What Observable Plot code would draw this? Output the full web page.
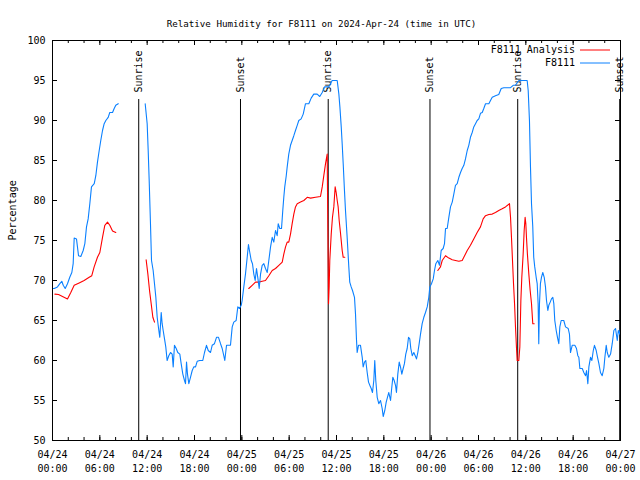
<!DOCTYPE html>
<html><head><meta charset="utf-8">
<script src="https://cdn.jsdelivr.net/npm/d3@7"></script>
<script src="https://cdn.jsdelivr.net/npm/@observablehq/plot@0.6"></script>
<style>body{margin:0;background:#fff} svg{display:block}</style>
</head><body><div id="chart"></div>
<script>
const title = "Relative Humidity for F8111 on 2024-Apr-24 (time in UTC)";
const yLabel = "Percentage";
const seriesNames = ["F8111 Analysis", "F8111"];
const seriesColors = ["#ff0000", "#0a80ff"];
const startUTC = "2024-04-24T00:00:00Z";
const rangeHours = 72;
const yTicks = [50, 55, 60, 65, 70, 75, 80, 85, 90, 95, 100];
const eventHours = [10.93, 23.83, 34.95, 47.85, 58.97, 71.9];
const eventLabels = ["Sunrise", "Sunset", "Sunrise", "Sunset", "Sunrise", "Sunset"];

// F8111 observations (hours after start, % RH); null = gap
const stationHours = [0,0.22,0.63,0.93,1.18,1.36,1.61,1.9,2.19,2.45,2.62,2.75,3.04,3.3,3.59,3.89,4.1,4.31,4.52,4.73,4.94,5.29,5.49,5.7,5.92,6.12,6.34,6.55,6.76,7.06,7.26,7.61,7.82,8.02,8.33,
10,
11.75,12.0,12.13,12.25,12.42,12.55,12.76,12.93,13.1,13.27,13.48,13.6,13.78,13.9,14.03,14.2,14.36,14.53,14.74,14.96,15.17,15.3,15.46,15.68,15.88,16.14,16.31,16.52,16.73,16.86,16.99,17.11,17.28,17.49,17.71,17.91,18.13,18.34,18.67,19.05,19.27,19.52,19.74,20.03,20.24,20.53,20.79,21.04,21.3,21.51,21.71,21.84,22.06,22.35,22.56,22.78,22.98,23.28,23.49,23.7,23.92,
24.04,24.25,24.46,24.68,24.84,25.01,25.19,25.35,25.52,25.69,25.86,26.02,26.2,26.37,26.58,26.79,27.0,27.22,27.42,27.64,27.85,28.05,28.27,28.48,28.61,28.81,29.03,29.19,29.32,29.44,29.63,29.75,29.95,30.17,30.38,30.59,30.8,31.02,31.22,31.52,31.78,32.07,32.49,32.79,33.12,33.55,33.88,34.19,34.48,35.02,35.45,36.09,
36.3,36.43,36.6,36.72,36.85,37.01,37.14,37.35,37.56,37.68,37.86,38.03,38.28,38.41,38.53,38.62,38.79,39.04,39.26,39.38,39.55,39.71,39.89,40.06,40.22,40.4,40.56,40.73,40.85,40.98,41.16,41.36,41.58,41.79,41.92,42.12,42.3,42.46,42.63,42.85,42.97,43.14,43.31,43.48,43.6,43.77,43.95,44.11,44.28,44.45,44.61,44.78,44.96,45.13,45.29,45.42,45.6,45.8,45.98,46.14,46.31,46.48,46.65,46.86,47.07,47.28,47.5,47.7,47.83,
48.04,48.26,48.42,48.59,48.84,49.06,49.27,49.52,49.69,49.82,50.03,50.24,50.45,50.67,50.87,51.08,51.3,51.51,51.72,51.93,52.14,52.35,52.57,52.77,52.98,53.2,53.4,53.62,53.83,54.04,54.25,54.47,54.67,54.89,55.31,55.52,55.74,56.15,56.57,56.88,57.21,58.06,58.4,58.69,59.11,60.17,
60.3,60.46,60.59,60.72,60.88,61.0,61.13,61.31,61.44,61.56,61.64,61.73,61.85,61.98,62.15,62.33,62.49,62.62,62.79,62.91,63.09,63.25,63.42,63.55,63.67,63.85,64.01,64.18,64.31,64.48,64.81,65.03,65.37,65.53,65.66,65.88,66.21,66.42,66.59,66.72,66.85,67.15,67.35,67.57,67.7,67.86,67.99,68.2,68.37,68.55,68.7,68.92,69.09,69.26,69.46,69.68,69.89,70.02,70.19,70.32,70.52,70.74,70.95,71.16,71.37,71.59,71.72,71.89,72.0];
const stationRH = [69.0,69.0,69.2,69.6,69.9,69.4,69.0,69.6,70.4,71.0,72.1,75.3,75.2,73.1,73.0,73.75,74.6,76.7,77.7,79.6,81.7,82.1,83.1,84.8,86.25,87.5,88.75,89.6,90.0,90.4,91.0,91.0,91.5,91.9,92.1,
null,
92.1,89.6,86.25,82.7,77.1,72.5,71.25,69.6,67.9,65.4,63.75,62.9,66.0,64.6,63.75,62.7,61.7,60.0,60.6,61.0,60.8,59.2,61.9,61.5,61.0,60.8,59.6,58.3,57.5,57.1,59.8,58.3,57.1,57.9,58.75,59.2,59.2,59.9,60.0,60.0,61.0,61.9,61.25,61.0,61.9,62.1,62.9,62.9,62.1,61.5,60.6,60.0,61.9,61.9,61.9,64.2,64.8,65.0,66.7,66.5,66.9,
67.5,69.2,70.8,72.9,74.5,73.5,72.5,72.1,70.8,70.0,71.5,70.4,69.0,70.8,71.9,72.1,71.5,71.0,72.5,74.2,75.4,74.8,76.25,75.6,77.1,76.5,76.5,78.75,80.4,81.7,83.1,84.2,85.8,86.9,87.5,88.1,88.75,89.4,90.0,90.2,90.8,92.1,92.1,92.8,93.3,93.3,93.0,93.5,94.2,94.2,95.0,95.0,
93.3,91.7,89.2,87.1,84.6,81.25,78.75,75.4,71.7,69.8,69.2,68.75,67.9,65.8,62.7,61.0,61.9,61.9,60.4,59.2,59.8,60.0,58.5,57.3,56.9,56.5,56.0,57.5,60.0,57.5,55.4,54.6,55.0,54.0,53.0,53.75,54.8,55.4,56.0,55.0,56.25,57.9,57.5,56.9,56.0,58.3,59.8,59.2,58.3,59.0,59.6,60.8,61.5,62.9,62.7,61.5,60.6,61.0,60.6,60.2,61.0,62.1,63.3,64.6,65.4,66.0,66.7,67.9,69.2,
69.6,70.2,71.25,72.1,72.5,71.9,73.75,74.0,74.6,76.5,76.5,77.9,79.2,79.8,80.8,81.9,82.1,82.9,83.5,84.0,84.4,85.2,86.25,86.9,87.9,88.5,89.2,89.6,90.0,90.2,90.9,91.0,91.5,92.1,92.1,92.5,92.9,93.1,93.25,94.0,94.1,94.1,94.4,94.4,95.0,95.0,
93.75,90.0,84.2,79.6,76.7,72.9,71.7,70.4,69.6,67.1,62.1,67.1,69.6,70.4,71.0,70.4,69.2,67.5,66.25,66.9,67.3,67.7,67.9,67.1,65.0,63.75,62.9,62.1,64.2,65.0,65.0,64.2,64.0,63.3,61.0,61.9,61.9,61.5,60.6,60.4,59.0,59.0,58.5,58.1,58.75,57.1,59.2,60.4,60.0,61.25,61.9,61.25,60.4,59.6,58.5,58.1,59.0,60.4,61.9,61.0,60.4,60.8,62.1,63.75,64.0,62.5,63.75,63.3,64.0];

// F8111 Analysis (hours after start, % RH); null = gap
const analysisHours = [0.3,0.76,1.27,1.9,2.32,2.75,3.38,4.01,4.65,4.98,5.28,5.7,6.0,6.34,6.63,6.97,7.26,7.61,8.02,
10,
11.87,12.09,12.3,12.51,12.72,12.93,
18,
24.88,25.31,25.73,26.15,26.58,27.0,27.42,27.85,28.27,28.69,29.12,29.32,29.54,29.75,29.95,30.17,30.38,30.59,30.8,31.02,31.44,31.86,32.29,32.71,33.34,33.97,34.19,34.39,34.61,34.82,34.9,34.99,35.07,35.15,35.33,35.49,35.66,35.83,35.96,36.09,36.21,36.34,36.5,36.72,36.85,37.05,
42,
48.84,49.18,49.4,49.82,50.24,50.67,51.08,51.51,51.93,52.14,52.57,52.98,53.4,53.83,54.25,54.59,54.89,55.31,55.74,56.15,56.57,57.0,57.42,57.93,58.06,58.18,58.31,58.44,58.57,58.69,58.82,58.9,59.11,59.24,59.37,59.49,59.66,59.79,59.91,60.0,60.08,60.2,60.38,60.55,60.72,60.88,61.06];
const analysisRH = [68.3,68.25,68.0,67.7,68.5,69.4,69.7,70.0,70.4,70.6,71.7,72.9,73.5,75.4,76.9,77.3,76.9,76.2,76.0,
null,
72.6,70.8,68.75,67.1,65.4,64.8,
null,
69.0,69.4,69.8,69.8,69.9,70.0,70.6,71.25,71.5,71.9,72.3,73.3,74.2,74.8,74.8,75.8,77.1,78.3,79.2,79.6,79.8,80.0,80.4,80.3,80.4,80.5,81.7,83.1,84.6,85.8,76.7,67.1,69.2,72.5,75.8,77.9,79.2,81.7,81.0,80.0,79.2,77.5,76.0,73.75,72.9,72.9,
null,
71.25,71.7,72.5,73.1,72.8,72.6,72.5,72.4,72.5,72.9,73.75,74.4,75.2,76.0,76.7,77.7,78.1,78.25,78.3,78.5,78.75,78.96,79.2,79.6,77.9,75.4,72.5,69.6,67.1,64.2,61.5,60.0,60.0,61.7,67.5,70.4,73.3,76.25,77.9,77.1,75.4,73.3,70.8,68.75,67.1,64.6,64.6];

const t0 = new Date(startUTC);
const at = h => new Date(+t0 + h * 3600e3);
const station = stationHours.map((h, i) => ({date: at(h), rh: stationRH[i]}));
const analysis = analysisHours.map((h, i) => ({date: at(h), rh: analysisRH[i]}));
const events = eventHours.map((h, i) => ({date: at(h), label: eventLabels[i]}));
const xMajor = d3.utcHour.every(6).range(at(0), at(rangeHours + 1));
const xMinor = d3.utcHour.every(2).range(at(0), at(rangeHours + 1));
const fmtDay = d3.utcFormat("%m/%d"), fmtTime = d3.utcFormat("%H:%M");

const W = 640, H = 480, mL = 52, mR = 20, mT = 40, mB = 40;
const plotW = W - mL - mR, plotH = H - mT - mB;
const font = "'DejaVu Sans Mono', 'Liberation Mono', monospace";

const chart = Plot.plot({
  width: W, height: H, marginLeft: mL, marginRight: mR, marginTop: mT, marginBottom: mB,
  style: {fontFamily: font, fontSize: "10px", background: "#fff", color: "#000", overflow: "visible"},
  x: {type: "utc", domain: [at(0), at(rangeHours)], axis: null},
  y: {domain: [50, 100], axis: null},
  marks: [
    Plot.ruleX(events, {x: "date", stroke: "#000", strokeWidth: 1, insetTop: 59}),
    Plot.text(events, {x: "date", text: "label", rotate: -90, frameAnchor: "top", dy: 52, textAnchor: "start", lineAnchor: "middle", fill: "#000"}),
    Plot.line(analysis, {x: "date", y: "rh", stroke: seriesColors[0], strokeWidth: 1.1}),
    Plot.line(station, {x: "date", y: "rh", stroke: seriesColors[1], strokeWidth: 1.1}),
    Plot.frame({stroke: "#000"}),
    Plot.tickY(yTicks, {y: d => d, stroke: "#000", insetRight: plotW - 5}),
    Plot.tickY(yTicks, {y: d => d, stroke: "#000", insetLeft: plotW - 5}),
    Plot.text(yTicks, {y: d => d, text: d => String(d), frameAnchor: "left", dx: -7, textAnchor: "end", fill: "#000"}),
    Plot.tickX(xMinor, {x: d => d, stroke: "#000", insetTop: plotH - 3}),
    Plot.tickX(xMinor, {x: d => d, stroke: "#000", insetBottom: plotH - 3}),
    Plot.tickX(xMajor, {x: d => d, stroke: "#000", insetTop: plotH - 5}),
    Plot.tickX(xMajor, {x: d => d, stroke: "#000", insetBottom: plotH - 5}),
    Plot.text(xMajor, {x: d => d, text: d => fmtDay(d) + "\n" + fmtTime(d), frameAnchor: "bottom", dy: 20, lineHeight: 1.4, lineAnchor: "middle", fill: "#000"}),
    Plot.text([title], {text: d => d, frameAnchor: "top", dy: -20, dx: -15, fontSize: 9.2, fill: "#000"}),
    Plot.text([yLabel], {text: d => d, frameAnchor: "left", dx: -40, rotate: -90, fill: "#000"})
  ]
});
document.getElementById("chart").appendChild(chart);

// legend (key) in the top right corner, as gnuplot draws it
const svg = d3.select(chart);
const key = svg.append("g").attr("font-family", font).attr("font-size", 10);
seriesNames.forEach((name, i) => {
  const y = 50 + i * 13;
  key.append("text").attr("x", W - mR - 45).attr("y", y).attr("dy", "0.32em").attr("text-anchor", "end").attr("fill", "#000").text(name);
  key.append("line").attr("x1", W - mR - 40).attr("x2", W - mR - 10).attr("y1", y).attr("y2", y).attr("stroke", seriesColors[i]).attr("stroke-width", 1);
});
</script>
</body></html>
